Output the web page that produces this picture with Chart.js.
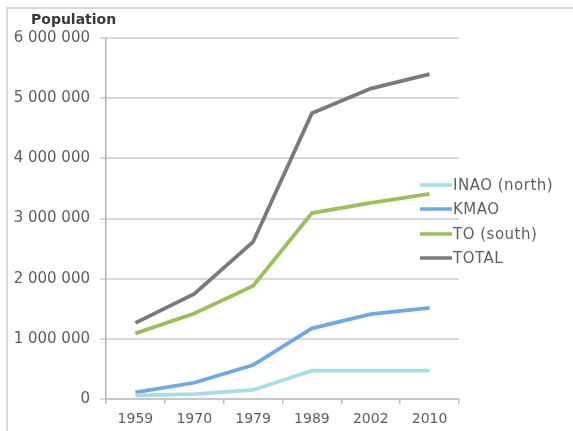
<!DOCTYPE html>
<html>
<head>
<meta charset="utf-8">
<script src="https://cdn.jsdelivr.net/npm/chart.js@4/dist/chart.umd.min.js"></script>
<style>
  html, body { margin: 0; padding: 0; background: #fff; overflow: hidden; }
  #frame { position: absolute; left: 6px; top: 7px; width: 620px; height: 480px;
           border: 2px solid #d9d9d9; box-sizing: border-box; }
  #wrap { position: absolute; left: 0; top: 0; width: 573px; height: 431px; }
</style>
</head>
<body>
<div id="frame"></div>
<div id="wrap"><canvas id="c" width="573" height="431"></canvas></div>
<script>
// Census years and population per region
const years = ['1959', '1970', '1979', '1989', '2002', '2010'];
const inaoNorth = [60000, 80000, 150000, 470000, 470000, 470000];
const kmao = [110000, 270000, 565000, 1175000, 1410000, 1515000];
const toSouth = [1090000, 1420000, 1880000, 3090000, 3260000, 3410000];
const total = [1265000, 1745000, 2610000, 4750000, 5160000, 5400000];
const yTickLabels = ['0', '1 000 000', '2 000 000', '3 000 000', '4 000 000', '5 000 000', '6 000 000'];

const seriesNames = ['INAO (north)', 'KMAO', 'TO (south)', 'TOTAL'];
const seriesColors = ['#a9dce9', '#6fa9e2', '#9cbf5c', '#7a7a7a'];
const seriesData = [inaoNorth, kmao, toSouth, total];

const FONT = 'DejaVu Sans';
const TEXT = '#5e5e5e';

// Title and legend drawn over the chart
const overlay = {
  id: 'overlay',
  afterDraw(chart) {
    const ctx = chart.ctx;
    ctx.save();
    ctx.fillStyle = '#3a3a3a';
    ctx.font = 'bold 14px "' + FONT + '"';
    ctx.textAlign = 'left';
    ctx.textBaseline = 'middle';
    ctx.fillText('Population', 31, 20);

    const rows = [185, 209, 234, 258];
    ctx.font = '15px "' + FONT + '"';
    ctx.letterSpacing = '0.5px';
    chart.data.datasets.forEach((ds, i) => {
      const y = rows[i];
      ctx.strokeStyle = ds.borderColor;
      ctx.lineWidth = 3.5;
      ctx.beginPath();
      ctx.moveTo(420, y);
      ctx.lineTo(452, y);
      ctx.stroke();
      ctx.fillStyle = TEXT;
      ctx.fillText(ds.label, 453, y + 1);
    });
    ctx.restore();
  }
};

new Chart(document.getElementById('c'), {
  type: 'line',
  data: {
    labels: years,
    datasets: seriesNames.map((name, i) => ({
      label: name,
      data: seriesData[i],
      borderColor: seriesColors[i],
      backgroundColor: seriesColors[i],
      borderWidth: 3.8,
      pointRadius: 0,
      tension: 0,
      fill: false
    }))
  },
  options: {
    responsive: false,
    devicePixelRatio: 1,
    animation: false,
    layout: { padding: { left: 0, top: 38, right: 114, bottom: 0 } },
    plugins: {
      legend: { display: false },
      title: { display: false },
      tooltip: { enabled: false }
    },
    scales: {
      x: {
        type: 'category',
        offset: true,
        grid: { offset: true, drawOnChartArea: false, drawTicks: true, tickLength: 5,
                color: '#bfbfbf', lineWidth: 1.5 },
        border: { color: '#c8c8c8', width: 2 },
        ticks: { color: TEXT, font: { family: FONT, size: 14 }, padding: 7, maxRotation: 0 },
        afterFit(s) { s.height = 32; }
      },
      y: {
        min: 0,
        max: 6000000,
        ticks: {
          stepSize: 1000000,
          color: TEXT,
          font: { family: FONT, size: 15 },
          padding: 10,
          callback: (v, i) => yTickLabels[i]
        },
        grid: { color: '#d9d9d9', lineWidth: 2, tickLength: 6 },
        border: { color: '#b3b3b3', width: 1.5 },
        afterFit(s) { s.width = 106; }
      }
    }
  },
  plugins: [overlay]
});
</script>
</body>
</html>
